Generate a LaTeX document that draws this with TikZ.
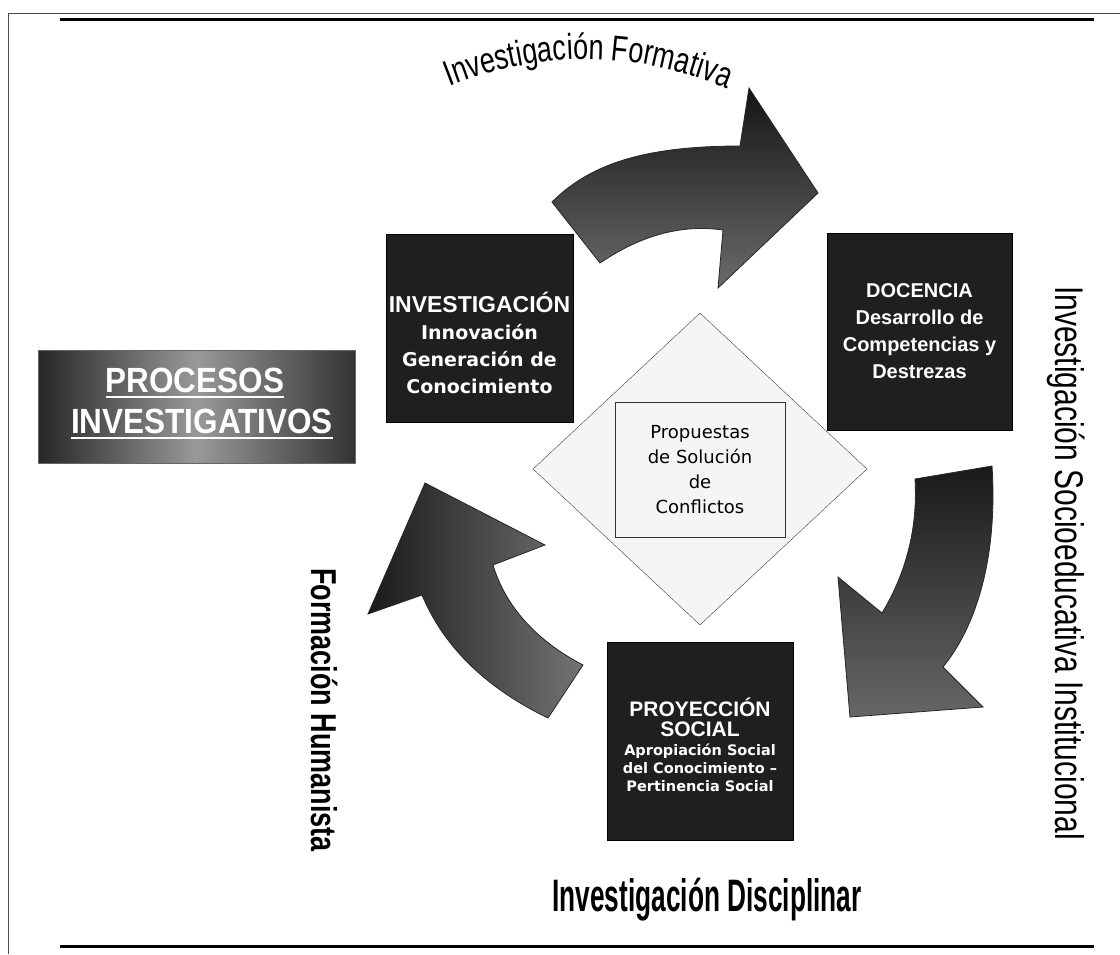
\documentclass[tikz,border=0pt]{standalone}
\usepackage{fontspec}
\setmainfont{Liberation Sans}
\newfontfamily\narrowfont[FakeStretch=0.75]{Liberation Sans}
\newfontfamily\procfont[FakeStretch=0.9]{Liberation Sans}
\newfontfamily\verdfont{DejaVu Sans}
\usetikzlibrary{shapes.geometric,decorations.text}
\tikzset{
caja/.style={fill=black!88, draw=black, inner sep=0pt},
cajatxt/.style={text=white, align=center, inner sep=0pt},
flecha/.style={draw=black!85, line width=0.8pt},
giro/.style={rotate=-90, inner sep=0pt}
}

\begin{document}
\begin{tikzpicture}[x=1pt, y=-1pt]
\useasboundingbox (0,0) rectangle (1120,954);
% marco
\draw[black!70, line width=0.8pt] (1120,13) -- (8,13) -- (8,954);
\draw[line width=3pt] (60,19) -- (1094,19);
\draw[line width=3pt] (60,946) -- (1094,946);

% rombo central
\node[diamond, fill=black!4, draw=black!75, minimum width=334pt, minimum height=312pt, inner sep=0pt] (rombo) at (700,469) {};
\node[draw=black!80, minimum width=170pt, minimum height=135pt, align=center,
  font=\verdfont\fontsize{18}{25}\selectfont] (propuesta) at (700,470)
  {Propuestas\\de Solución\\de\\Conflictos};

% flechas del ciclo
\draw[flecha, top color=black!92, bottom color=black!58]
  (552,202) .. controls (588,166) and (640,146) .. (740,146) -- (749,88) -- (818,193)
  -- (718,288) -- (723,230) .. controls (680,224) and (640,236) .. (600,263) -- cycle;
\draw[flecha, top color=black!90, bottom color=black!60]
  (915,479) -- (992,466) .. controls (998,560) and (975,628) .. (943,667) -- (983,707)
  -- (850,717) -- (838,577) -- (882,613) .. controls (905,575) and (918,530) .. (915,479) -- cycle;
\draw[flecha, left color=black!90, right color=black!55]
  (583,665) -- (548,718) .. controls (490,690) and (445,650) .. (422,595) -- (368,614)
  -- (425,483) -- (545,545) -- (493,565) .. controls (505,605) and (535,640) .. (583,665) -- cycle;

% cajas
\node[caja, minimum width=187pt, minimum height=188pt] (inv) at (479.5,328) {};
\node[cajatxt, font=\bfseries\fontsize{19}{27}\selectfont] (invtxt) at ([yshift=-15pt]inv.center)
  {{\fontsize{23}{27}\selectfont INVESTIGACIÓN}\\{\verdfont Innovación}\\{\verdfont Generación de}\\{\verdfont Conocimiento}};
\node[caja, minimum width=185pt, minimum height=197pt] (doc) at (919.5,331.5) {};
\node[cajatxt, font=\bfseries\fontsize{20}{27}\selectfont] (doctxt) at (doc.center)
  {DOCENCIA\\Desarrollo de\\Competencias y\\Destrezas};
\node[caja, minimum width=186pt, minimum height=198pt] (proy) at (700,741) {};
\node[cajatxt, font=\bfseries\fontsize{21}{20}\selectfont] (proytxt) at ([yshift=-4pt]proy.center)
  {PROYECCIÓN\\SOCIAL\\[-1pt]{\verdfont\fontsize{14.5}{17}\selectfont Apropiación Social}\\[-2pt]
   {\verdfont\fontsize{14.5}{17}\selectfont del Conocimiento –}\\[-2pt]{\verdfont\fontsize{14.5}{17}\selectfont Pertinencia Social}};

% recuadro izquierdo
\node[draw=black!60, minimum width=317pt, minimum height=113pt, left color=black!85,
  right color=black!80, middle color=black!40] (procesos) at (196.5,406.5) {};
\node[anchor=base, inner sep=0pt, text=white, font=\procfont\bfseries\fontsize{35}{35}\selectfont]
  (proc1) at (195,392) {PROCESOS};
\node[anchor=base, inner sep=0pt, text=white, font=\procfont\bfseries\fontsize{35}{35}\selectfont]
  (proc2) at (202,433) {INVESTIGATIVOS};
\foreach \p in {proc1,proc2}
  \draw[white, line width=2.5pt] ([yshift=-5pt]\p.base west) -- ([yshift=-5pt]\p.base east);

% rotulos
\path[decorate, decoration={text along path, text align=center,
  text={|\narrowfont\fontsize{36}{36}\selectfont|Investigación Formativa}}]
  (436,92) .. controls (540,48) and (635,48) .. (740,94);
\node[yscale=1.3, font=\narrowfont\bfseries\fontsize{35}{35}\selectfont] (disciplinar) at (707,900)
  {Investigación Disciplinar};
\node[giro, font=\narrowfont\bfseries\fontsize{36}{36}\selectfont] (humanista) at (325,710)
  {Formación Humanista};
\node[giro, font=\narrowfont\fontsize{40}{40}\selectfont] (socio) at (1066,563)
  {Investigación Socioeducativa Institucional};
\end{tikzpicture}
\end{document}
